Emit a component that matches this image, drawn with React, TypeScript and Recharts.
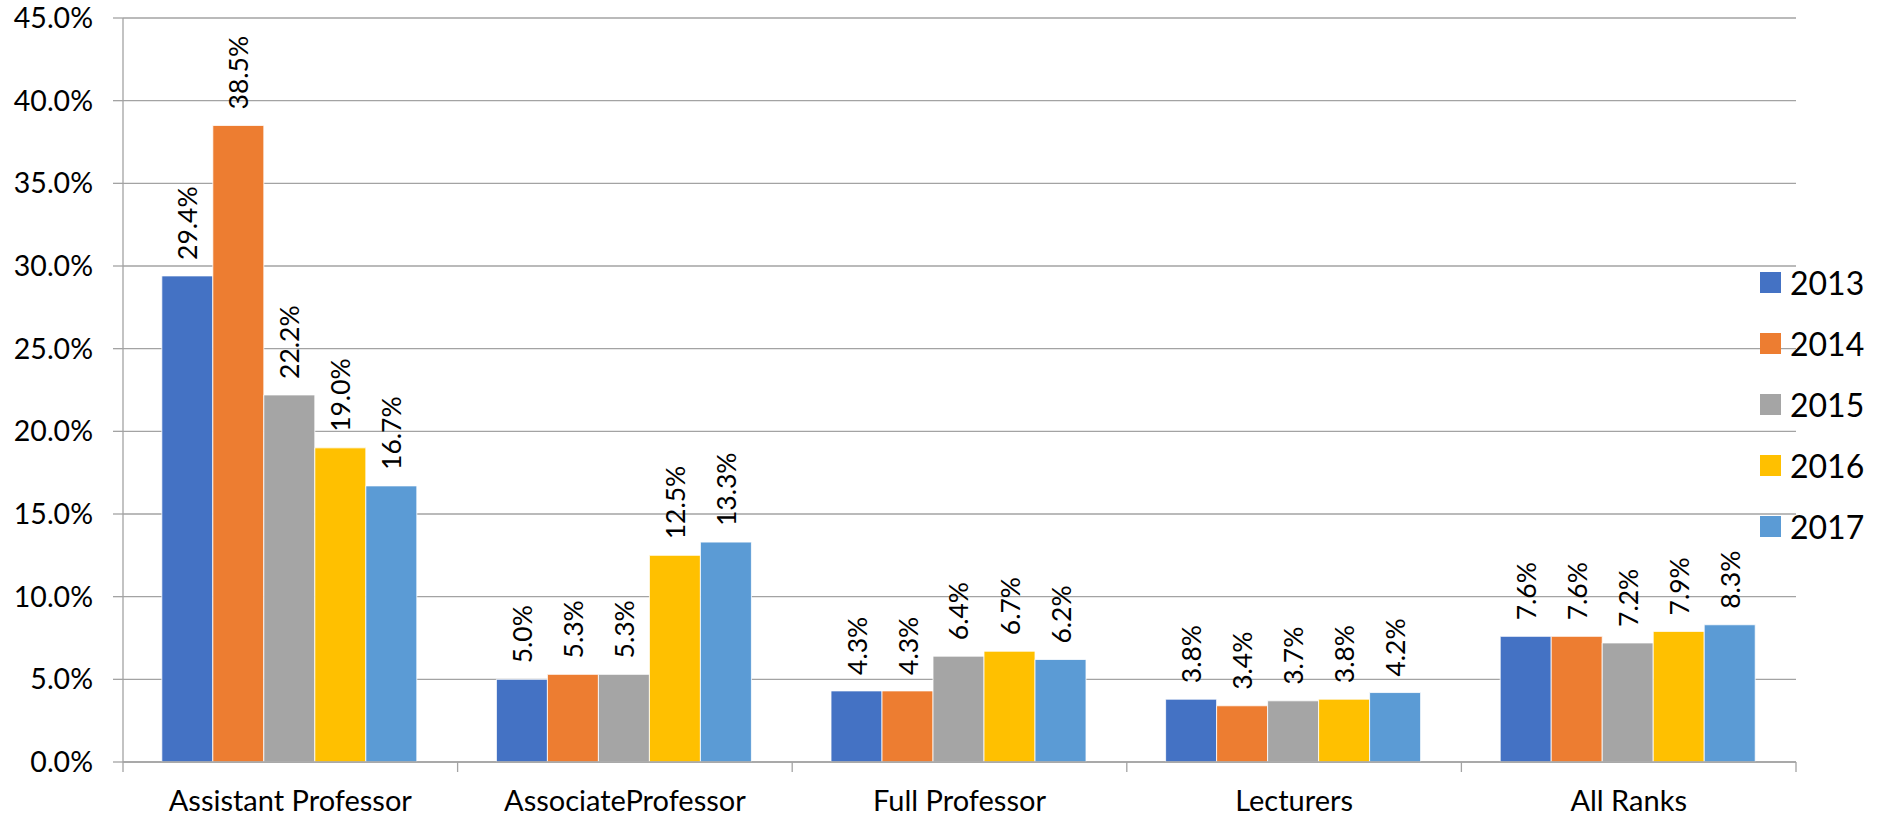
import React from 'react';
import { BarChart, Bar, XAxis, YAxis, CartesianGrid, LabelList } from 'recharts';

const categories = ['Assistant Professor', 'AssociateProfessor', 'Full Professor', 'Lecturers', 'All Ranks'];
const years = ['2013', '2014', '2015', '2016', '2017'];
const v2013 = [29.4, 5.0, 4.3, 3.8, 7.6];
const v2014 = [38.5, 5.3, 4.3, 3.4, 7.6];
const v2015 = [22.2, 5.3, 6.4, 3.7, 7.2];
const v2016 = [19.0, 12.5, 6.7, 3.8, 7.9];
const v2017 = [16.7, 13.3, 6.2, 4.2, 8.3];
const yTicks = [0, 5, 10, 15, 20, 25, 30, 35, 40, 45];
const colors = ['#4472C4', '#ED7D31', '#A5A5A5', '#FFC000', '#5B9BD5'];

const seriesValues = [v2013, v2014, v2015, v2016, v2017];
const data = categories.map((c, i) => {
  const row: any = { name: c };
  years.forEach((y, k) => { row[y] = seriesValues[k][i]; });
  return row;
});

const W = 1878;
const H = 823;
const M = { top: 18, right: 82, bottom: 0, left: 0 };
const XH = 61;
const YW = 123;
const PLOT_W = W - M.left - M.right - YW;
const BAND = PLOT_W / categories.length;
const FONT = 'Lato, "Open Sans", sans-serif';
const GRID = '#a3a3a3';

const XTick = (props: any) => {
  const { x, y, payload, index } = props;
  return (
    <g>
      <line x1={x - BAND / 2} x2={x - BAND / 2} y1={y} y2={y + 10} stroke={GRID} strokeWidth={1.3} />
      {index === categories.length - 1 && (
        <line x1={x + BAND / 2} x2={x + BAND / 2} y1={y} y2={y + 10} stroke={GRID} strokeWidth={1.3} />
      )}
      <text x={x} y={y + 42} textAnchor="middle" dominantBaseline="middle" fill="#000" fontSize={29} fontFamily={FONT}>
        {payload.value}
      </text>
    </g>
  );
};

const RotLabel = (props: any) => {
  const { x, y, width, value } = props;
  const cx = x + width / 2;
  const cy = y - 16;
  return (
    <text x={cx} y={cy} transform={`rotate(-90, ${cx}, ${cy})`} textAnchor="start" dominantBaseline="central"
      fill="#000" fontSize={26.5} fontFamily={FONT}>
      {`${Number(value).toFixed(1)}%`}
    </text>
  );
};

const LegendBox = () => (
  <div style={{ position: 'absolute', left: 1760, top: 252, fontFamily: FONT }}>
    {years.map((y, k) => (
      <div key={y} style={{ height: 61, display: 'flex', alignItems: 'center' }}>
        <div style={{ width: 21, height: 21, background: colors[k], marginRight: 9 }} />
        <span style={{ fontSize: 32, color: '#000', lineHeight: '32px' }}>{y}</span>
      </div>
    ))}
  </div>
);

export default function App() {
  return (
    <div style={{ position: 'absolute', left: 0, top: 0, width: W, height: H, background: '#fff' }}>
      <BarChart width={W} height={H} data={data} margin={M} barCategoryGap="11.6%" barGap={0}>
        <CartesianGrid vertical={false} stroke={GRID} strokeWidth={1.3} />
        <XAxis dataKey="name" axisLine={{ stroke: GRID, strokeWidth: 1.3 }} tickLine={false} tickSize={0} tickMargin={0}
          tick={<XTick />} interval={0} height={XH} />
        <YAxis width={YW} domain={[0, 45]} ticks={yTicks} allowDataOverflow
          axisLine={{ stroke: GRID, strokeWidth: 1.3 }} tickLine={{ stroke: GRID, strokeWidth: 1.3 }} tickSize={10} tickMargin={20}
          tickFormatter={(v: number) => `${v.toFixed(1)}%`}
          tick={{ fill: '#000', fontSize: 28.5, fontFamily: FONT }} />
        {years.map((y, k) => (
          <Bar key={y} dataKey={y} fill={colors[k]} stroke="#ffffff" strokeWidth={0.8} isAnimationActive={false}>
            <LabelList dataKey={y} content={<RotLabel />} />
          </Bar>
        ))}
      </BarChart>
      <LegendBox />
    </div>
  );
}
